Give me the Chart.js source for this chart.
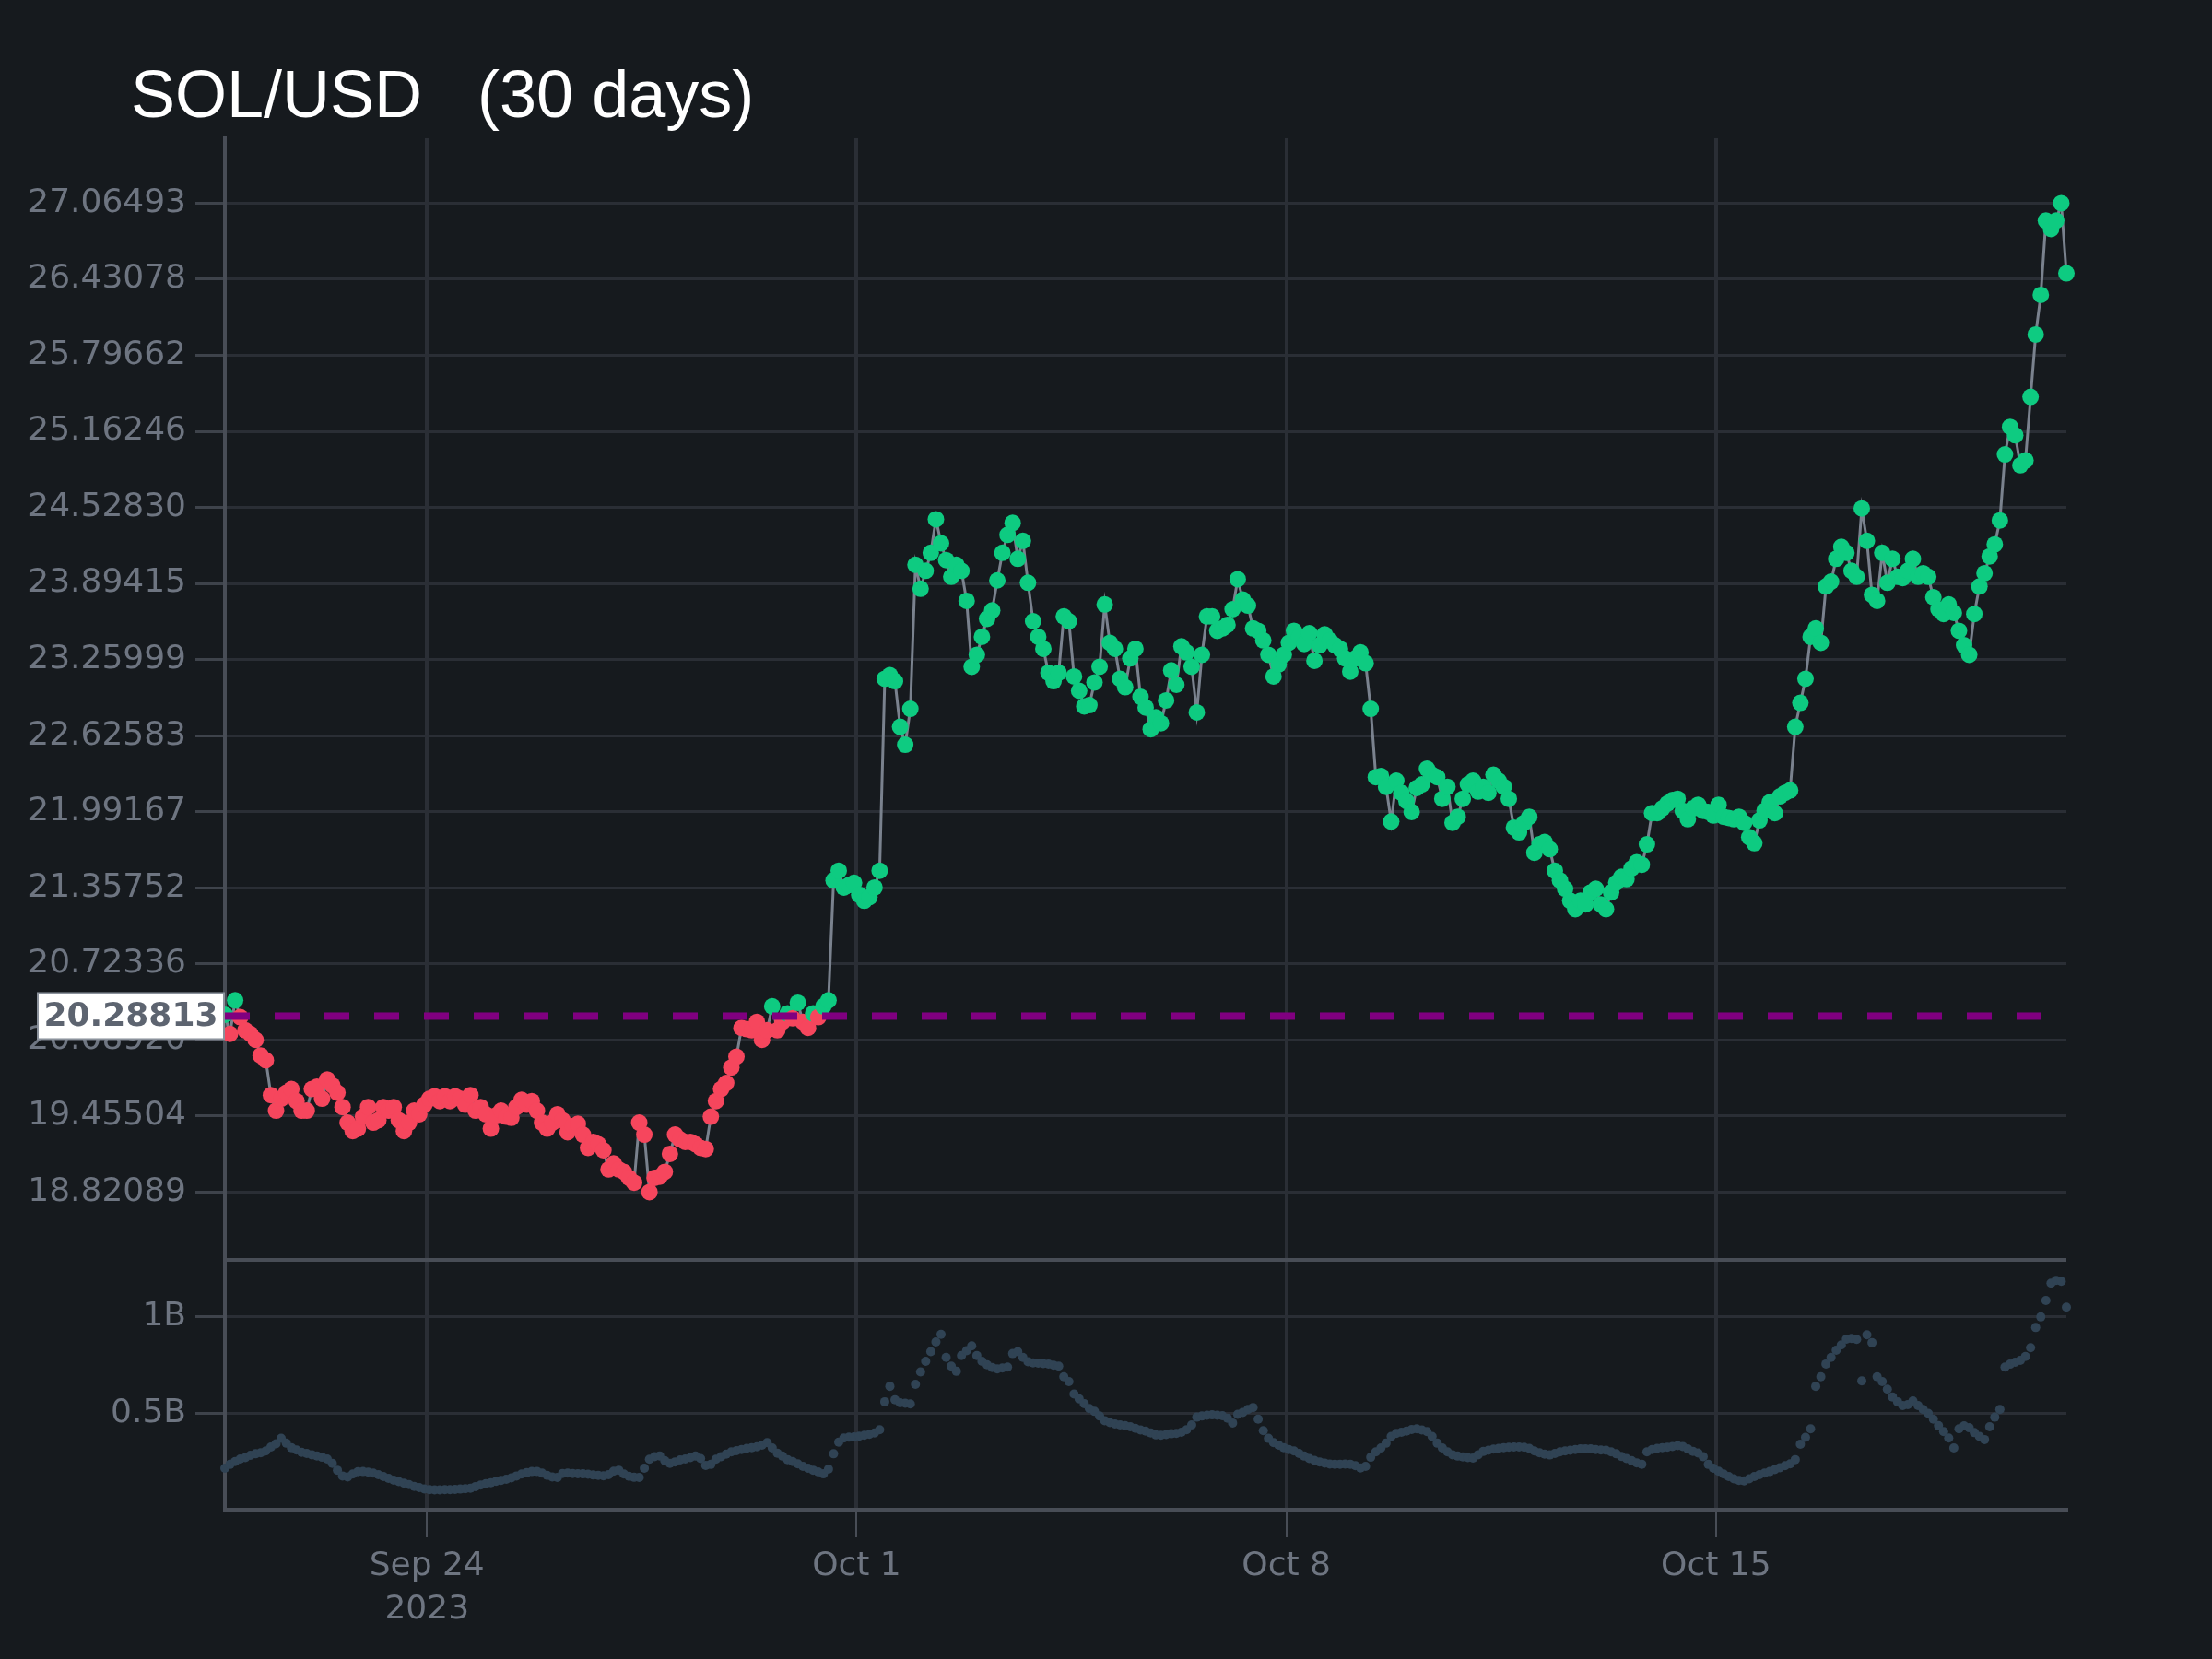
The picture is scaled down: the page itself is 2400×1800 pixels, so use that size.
<!DOCTYPE html>
<html>
<head>
<meta charset="utf-8">
<title>SOL/USD (30 days)</title>
<script src="https://cdn.jsdelivr.net/npm/chart.js@4.4.0/dist/chart.umd.min.js"></script>
<style>
  html, body { margin: 0; padding: 0; background: #161a1e; }
  #wrap { width: 2400px; height: 1800px; }
</style>
</head>
<body>
<div id="wrap"><canvas id="chart" width="2400" height="1800"></canvas></div>
<script>
// muestras cada 2 horas, 2023-09-20 17:00 UTC -> 2023-10-20 17:00 UTC
const startTime = Date.UTC(2023, 8, 20, 17);
const stepMs = 2 * 3600 * 1000;

// precio SOL/USD, una fila = un día (12 muestras)
const prices = [
  20.30, 20.14, 20.42, 20.28, 20.17, 20.14, 20.09, 19.96, 19.92, 19.63, 19.50, 19.60,
  19.65, 19.68, 19.58, 19.50, 19.50, 19.68, 19.70, 19.60, 19.76, 19.71, 19.65, 19.53,
  19.40, 19.33, 19.35, 19.45, 19.53, 19.40, 19.42, 19.53, 19.50, 19.53, 19.42, 19.33,
  19.40, 19.50, 19.47, 19.55, 19.60, 19.62, 19.58, 19.62, 19.58, 19.62, 19.60, 19.55,
  19.63, 19.50, 19.53, 19.47, 19.35, 19.46, 19.50, 19.45, 19.44, 19.53, 19.59, 19.55,
  19.58, 19.50, 19.40, 19.35, 19.40, 19.47, 19.42, 19.32, 19.37, 19.39, 19.30, 19.19,
  19.24, 19.22, 19.17, 19.01, 19.06, 19.01, 18.99, 18.94, 18.90, 19.40, 19.30, 18.821,
  18.94, 18.95, 18.99, 19.14, 19.30, 19.26, 19.24, 19.24, 19.22, 19.19, 19.18, 19.45,
  19.58, 19.68, 19.73, 19.86, 19.95, 20.19, 20.18, 20.17, 20.24, 20.09, 20.17, 20.37,
  20.17, 20.24, 20.31, 20.27, 20.40, 20.24, 20.19, 20.31, 20.28, 20.37, 20.42, 21.42,
  21.50, 21.36, 21.38, 21.40, 21.30, 21.25, 21.28, 21.36, 21.50, 23.10, 23.13, 23.08,
  22.70, 22.55, 22.85, 24.05, 23.85, 24.00, 24.15, 24.43, 24.23, 24.09, 23.95, 24.05,
  24.00, 23.75, 23.20, 23.30, 23.45, 23.60, 23.67, 23.92, 24.15, 24.30, 24.40, 24.10,
  24.25, 23.90, 23.58, 23.45, 23.35, 23.15, 23.08, 23.15, 23.62, 23.58, 23.12, 23.00,
  22.87, 22.88, 23.07, 23.20, 23.72, 23.40, 23.35, 23.10, 23.03, 23.27, 23.35, 22.95,
  22.86, 22.68, 22.78, 22.73, 22.92, 23.17, 23.05, 23.37, 23.32, 23.20, 22.82, 23.30,
  23.62, 23.62, 23.50, 23.52, 23.55, 23.68, 23.93, 23.76, 23.71, 23.52, 23.50, 23.42,
  23.30, 23.12, 23.22, 23.30, 23.40, 23.50, 23.45, 23.39, 23.48, 23.25, 23.38, 23.47,
  23.42, 23.38, 23.35, 23.27, 23.16, 23.27, 23.32, 23.23, 22.85, 22.28, 22.29, 22.20,
  21.91, 22.25, 22.15, 22.08, 21.99, 22.19, 22.22, 22.35, 22.30, 22.28, 22.10, 22.20,
  21.90, 21.95, 22.10, 22.22, 22.25, 22.16, 22.20, 22.15, 22.30, 22.25, 22.20, 22.10,
  21.86, 21.82, 21.90, 21.95, 21.65, 21.72, 21.74, 21.68, 21.50, 21.42, 21.35, 21.25,
  21.18, 21.25, 21.22, 21.32, 21.35, 21.22, 21.18, 21.32, 21.40, 21.45, 21.43, 21.52,
  21.57, 21.55, 21.72, 21.98, 21.98, 22.02, 22.06, 22.09, 22.10, 22.00, 21.93, 22.02,
  22.05, 22.00, 21.99, 21.96, 22.05, 21.95, 21.94, 21.93, 21.95, 21.90, 21.78, 21.73,
  21.92, 22.00, 22.07, 21.98, 22.12, 22.15, 22.17, 22.70, 22.90, 23.10, 23.45, 23.52,
  23.40, 23.87, 23.91, 24.10, 24.20, 24.15, 24.00, 23.95, 24.52, 24.25, 23.80, 23.75,
  24.15, 23.90, 24.10, 23.95, 23.94, 24.00, 24.10, 23.95, 23.98, 23.95, 23.78, 23.68,
  23.64, 23.72, 23.65, 23.50, 23.38, 23.30, 23.64, 23.87, 23.98, 24.12, 24.22, 24.42,
  24.97, 25.20, 25.13, 24.88, 24.92, 25.45, 25.97, 26.30, 26.92, 26.85, 26.92, 27.065,
  26.48
];

// volumen en miles de millones (B)
const volumesB = [
  0.215, 0.235, 0.250, 0.263, 0.270, 0.282, 0.290, 0.295, 0.305, 0.325, 0.342, 0.370,
  0.345, 0.322, 0.310, 0.298, 0.292, 0.285, 0.279, 0.272, 0.263, 0.240, 0.205, 0.175,
  0.170, 0.185, 0.197, 0.198, 0.195, 0.190, 0.182, 0.172, 0.163, 0.153, 0.146, 0.138,
  0.130, 0.121, 0.115, 0.108, 0.104, 0.103, 0.103, 0.104, 0.104, 0.105, 0.107, 0.109,
  0.111, 0.120, 0.128, 0.135, 0.140, 0.147, 0.152, 0.158, 0.165, 0.175, 0.185, 0.192,
  0.198, 0.199, 0.190, 0.178, 0.170, 0.167, 0.188, 0.190, 0.188, 0.187, 0.186, 0.184,
  0.180, 0.178, 0.176, 0.182, 0.200, 0.205, 0.185, 0.173, 0.168, 0.167, 0.215, 0.262,
  0.275, 0.279, 0.255, 0.240, 0.248, 0.258, 0.263, 0.270, 0.278, 0.265, 0.230, 0.235,
  0.262, 0.275, 0.288, 0.300, 0.306, 0.312, 0.318, 0.322, 0.326, 0.335, 0.348, 0.320,
  0.293, 0.278, 0.260, 0.250, 0.238, 0.225, 0.215, 0.205, 0.196, 0.186, 0.210, 0.290,
  0.350, 0.372, 0.376, 0.378, 0.381, 0.386, 0.391, 0.398, 0.415, 0.560, 0.640, 0.570,
  0.555, 0.552, 0.549, 0.650, 0.715, 0.770, 0.820, 0.870, 0.910, 0.790, 0.745, 0.718,
  0.800, 0.825, 0.850, 0.800, 0.770, 0.752, 0.738, 0.730, 0.735, 0.740, 0.810, 0.820,
  0.790, 0.768, 0.762, 0.760, 0.758, 0.756, 0.750, 0.745, 0.690, 0.665, 0.600, 0.575,
  0.550, 0.525, 0.510, 0.486, 0.462, 0.452, 0.445, 0.440, 0.436, 0.430, 0.422, 0.414,
  0.408, 0.398, 0.388, 0.386, 0.390, 0.394, 0.396, 0.402, 0.415, 0.440, 0.480, 0.486,
  0.490, 0.492, 0.490, 0.488, 0.475, 0.450, 0.495, 0.505, 0.520, 0.530, 0.470, 0.410,
  0.370, 0.348, 0.335, 0.322, 0.312, 0.305, 0.292, 0.278, 0.265, 0.256, 0.248, 0.242,
  0.237, 0.236, 0.236, 0.237, 0.236, 0.228, 0.216, 0.225, 0.272, 0.300, 0.320, 0.345,
  0.380, 0.396, 0.402, 0.408, 0.416, 0.420, 0.414, 0.405, 0.380, 0.345, 0.320, 0.300,
  0.285, 0.278, 0.274, 0.270, 0.268, 0.285, 0.302, 0.308, 0.314, 0.318, 0.322, 0.324,
  0.325, 0.325, 0.324, 0.318, 0.305, 0.295, 0.288, 0.284, 0.292, 0.300, 0.305, 0.308,
  0.312, 0.315, 0.316, 0.316, 0.312, 0.310, 0.308, 0.300, 0.290, 0.276, 0.265, 0.255,
  0.243, 0.236, 0.300, 0.312, 0.318, 0.322, 0.324, 0.328, 0.332, 0.328, 0.315, 0.303,
  0.294, 0.275, 0.235, 0.215, 0.200, 0.185, 0.172, 0.160, 0.152, 0.150, 0.160, 0.172,
  0.182, 0.190, 0.198, 0.208, 0.218, 0.228, 0.238, 0.260, 0.340, 0.375, 0.420, 0.640,
  0.690, 0.756, 0.790, 0.827, 0.855, 0.885, 0.888, 0.883, 0.668, 0.907, 0.867, 0.690,
  0.665, 0.625, 0.585, 0.560, 0.540, 0.545, 0.564, 0.540, 0.520, 0.500, 0.470, 0.436,
  0.405, 0.372, 0.320, 0.420, 0.435, 0.425, 0.400, 0.380, 0.364, 0.430, 0.480, 0.520,
  0.740, 0.755, 0.765, 0.775, 0.795, 0.840, 0.945, 1.000, 1.085, 1.175, 1.190, 1.185,
  1.051
];

// precio de apertura del periodo (línea discontinua)
const openPrice = 20.28813;

const titleText = 'SOL/USD   (30 days)';
const priceTicks = ['18.82089', '19.45504', '20.08920', '20.72336', '21.35752', '21.99167', '22.62583',
  '23.25999', '23.89415', '24.52830', '25.16246', '25.79662', '26.43078', '27.06493'];
const volumeTicks = [0.5, 1];
const volumeTickLabels = ['0.5B', '1B'];
const dateTicks = ['2023-09-24', '2023-10-01', '2023-10-08', '2023-10-15'];
const dateTickLabels = [['Sep 24', '2023'], 'Oct 1', 'Oct 8', 'Oct 15'];

const GREEN = '#0ecb81';
const RED = '#f6465d';
const GRID = '#2a2e35';
const AXIS = '#484d56';
const TEXT = '#6e7581';

const endTime = startTime + (prices.length - 1) * stepMs;
const pricePoints = prices.map((p, i) => ({ x: startTime + i * stepMs, y: p }));
const volumePoints = volumesB.map((v, i) => ({ x: startTime + i * stepMs, y: v }));

Chart.defaults.font.family = '"DejaVu Sans", Verdana, sans-serif';
Chart.defaults.font.size = 36;
Chart.defaults.color = TEXT;

// título, línea divisoria entre paneles y etiqueta del precio de apertura
const panelExtras = {
  id: 'panelExtras',
  afterDatasetsDraw(chart) {
    const { ctx, chartArea } = chart;
    const vol = chart.scales.yVol;
    ctx.save();
    ctx.strokeStyle = AXIS;
    ctx.lineWidth = 4;
    ctx.beginPath();
    ctx.moveTo(chartArea.left, vol.top);
    ctx.lineTo(chartArea.right, vol.top);
    ctx.stroke();
    ctx.restore();
  },
  afterDraw(chart) {
    const { ctx, chartArea } = chart;
    ctx.save();
    ctx.fillStyle = '#ffffff';
    ctx.font = '72px "Liberation Sans", Arial, sans-serif';
    ctx.textAlign = 'left';
    ctx.textBaseline = 'alphabetic';
    ctx.fillText(titleText, 142, 127);

    const y = chart.scales.yPrice.getPixelForValue(openPrice);
    const w = 202, h = 50;
    const x0 = chartArea.left - w - 1;
    ctx.fillStyle = '#ffffff';
    ctx.strokeStyle = '#8b929c';
    ctx.lineWidth = 2;
    ctx.fillRect(x0, y - h / 2, w, h);
    ctx.strokeRect(x0, y - h / 2, w, h);
    ctx.fillStyle = '#5d6470';
    ctx.font = 'bold 36px "DejaVu Sans", Verdana, sans-serif';
    ctx.textAlign = 'center';
    ctx.textBaseline = 'middle';
    ctx.fillText(openPrice.toFixed(5), x0 + w / 2, y + 1);
    ctx.restore();
  }
};

new Chart(document.getElementById('chart'), {
  type: 'line',
  data: {
    datasets: [
      {
        label: 'Apertura',
        data: [{ x: startTime, y: openPrice }, { x: endTime, y: openPrice }],
        yAxisID: 'yPrice',
        borderColor: '#800080',
        borderWidth: 8,
        borderDash: [27, 27],
        pointRadius: 0,
        order: 0
      },
      {
        label: 'SOL/USD',
        data: pricePoints,
        yAxisID: 'yPrice',
        borderColor: '#7a828e',
        borderWidth: 3,
        pointRadius: 9,
        pointBorderWidth: 0,
        pointBackgroundColor: ctx => (ctx.parsed && ctx.parsed.y >= openPrice ? GREEN : RED),
        clip: 12,
        order: 1
      },
      {
        label: 'Volumen',
        data: volumePoints,
        yAxisID: 'yVol',
        showLine: false,
        pointRadius: 5,
        pointBorderWidth: 0,
        pointBackgroundColor: '#304354',
        clip: 8,
        order: 2
      }
    ]
  },
  options: {
    responsive: false,
    devicePixelRatio: 1,
    animation: false,
    events: [],
    layout: { padding: { left: 0, right: 158, top: 150, bottom: 0 } },
    plugins: {
      legend: { display: false },
      tooltip: { enabled: false },
      title: { display: false }
    },
    scales: {
      x: {
        type: 'linear',
        min: startTime,
        max: endTime,
        afterBuildTicks: s => { s.ticks = dateTicks.map(d => ({ value: Date.parse(d) })); },
        afterFit: s => { s.height = 162; },
        ticks: {
          autoSkip: false,
          maxRotation: 0,
          padding: 8,
          font: { size: 36, lineHeight: 1.3 },
          callback: (v, i) => dateTickLabels[i]
        },
        grid: { color: GRID, lineWidth: 4, tickLength: 30, tickColor: AXIS, tickWidth: 2 },
        border: { display: true, color: AXIS, width: 4 }
      },
      yVol: {
        type: 'linear',
        position: 'left',
        stack: 'panels',
        stackWeight: 1,
        min: 0,
        max: 1.296,
        afterBuildTicks: s => { s.ticks = volumeTicks.map(v => ({ value: v })); },
        afterFit: s => { s.width = 244; },
        ticks: { padding: 10, callback: (v, i) => volumeTickLabels[i] },
        grid: { color: GRID, lineWidth: 3, tickLength: 32, tickColor: '#3e434b' },
        border: { display: true, color: AXIS, width: 4 }
      },
      yPrice: {
        type: 'linear',
        position: 'left',
        stack: 'panels',
        stackWeight: 4.49,
        min: 18.256,
        max: 27.606,
        afterBuildTicks: s => { s.ticks = priceTicks.map(v => ({ value: parseFloat(v) })); },
        afterFit: s => { s.width = 244; },
        ticks: { padding: 10, callback: (v, i) => priceTicks[i] },
        grid: { color: GRID, lineWidth: 3, tickLength: 32, tickColor: '#3e434b' },
        border: { display: true, color: AXIS, width: 4 }
      }
    }
  },
  plugins: [panelExtras]
});
</script>
</body>
</html>
